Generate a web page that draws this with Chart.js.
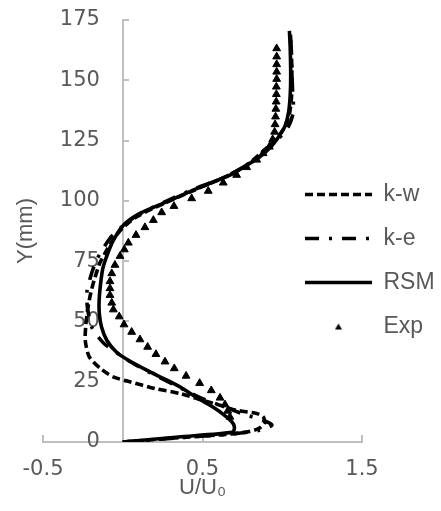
<!DOCTYPE html>
<html>
<head>
<meta charset="utf-8">
<script src="https://cdn.jsdelivr.net/npm/chart.js@4"></script>
<style>
html,body{margin:0;padding:0;background:#fff;}
#wrap{width:441px;height:511px;}
</style>
</head>
<body>
<div id="wrap"><canvas id="c" width="441" height="511"></canvas></div>
<script>
// ---- data ----
const xTicks = [-0.5, 0.5, 1.5];
const yTicks = [0, 25, 50, 75, 100, 125, 150, 175];
const seriesNames = ['k-w', 'k-e', 'RSM', 'Exp'];

const kwU = [0, 0.35, 0.62, 0.76, 0.85, 0.89, 0.88, 0.84, 0.71, 0.61, 0.5, 0.36, 0.2, 0.05, -0.06, -0.14, -0.21, -0.235, -0.232, -0.22, -0.2, -0.175, -0.145, -0.105, -0.06, -0.005, 0.09, 0.26, 0.45, 0.66, 0.77, 0.87, 0.95, 1.01, 1.045, 1.06, 1.06, 1.055, 1.05];
const kwY = [0, 1.8, 3.0, 4.0, 5.5, 8.0, 10.5, 11.8, 13.2, 15.2, 17.3, 20.1, 22.2, 24.9, 27.0, 30.5, 35.3, 42, 48, 55, 62, 68, 74, 79, 84, 88.5, 93.5, 99, 104.5, 110.5, 114.5, 120, 125, 130, 136, 145, 155, 165, 170];

const keU = [0, 0.4, 0.7, 0.85, 0.935, 0.88, 0.76, 0.62, 0.5, 0.36, 0.15, 0.03, -0.06, -0.12, -0.19, -0.22, -0.225, -0.195, -0.16, -0.08, -0.01, 0.09, 0.26, 0.45, 0.66, 0.85, 0.98, 1.04, 1.07, 1.065, 1.06, 1.055, 1.05];
const keY = [0, 2.0, 3.4, 4.8, 7.0, 9.0, 11.5, 15.0, 18, 22.5, 29.5, 34, 38, 41, 47, 55, 62, 70, 76, 84.5, 89, 94, 99.5, 105, 110.5, 118, 126, 131, 137, 145, 155, 165, 170];

const rsmU = [0, 0.35, 0.69, 0.70, 0.685, 0.62, 0.547, 0.45, 0.36, 0.26, 0.15, 0.035, -0.04, -0.1, -0.133, -0.147, -0.148, -0.14, -0.125, -0.095, -0.06, 0.004, 0.108, 0.275, 0.464, 0.672, 0.77, 0.86, 0.93, 0.985, 1.02, 1.04, 1.05, 1.053, 1.05, 1.045];
const rsmY = [0, 2.1, 4.1, 6.2, 8.3, 12, 15.2, 19, 22.8, 26.2, 29.8, 33.9, 37.3, 42.2, 47.7, 53.3, 58.8, 65, 72, 78, 83.5, 89.9, 94.8, 99.6, 105.1, 110.7, 114.5, 118.3, 122.5, 127.3, 131.4, 136.9, 143.9, 152.2, 163.2, 170.5];

const expU = [0.672, 0.658, 0.641, 0.61, 0.555, 0.482, 0.397, 0.323, 0.265, 0.208, 0.156, 0.108, 0.056, 0.008, -0.022, -0.059, -0.069, -0.08, -0.08, -0.08, -0.069, -0.049, -0.017, 0.01, 0.035, 0.083, 0.139, 0.192, 0.244, 0.321, 0.432, 0.536, 0.63, 0.714, 0.777, 0.84, 0.88, 0.919, 0.94, 0.952, 0.955, 0.958, 0.96, 0.962, 0.963, 0.963, 0.965, 0.965, 0.965, 0.965, 0.965];
const expY = [10.4, 12.9, 15.5, 18.3, 21.4, 24.4, 27.4, 30.5, 33.3, 36.4, 39.4, 42.5, 45.6, 48.7, 52.0, 54.9, 57.7, 60.9, 63.7, 66.6, 69.9, 73.4, 77.1, 79.8, 82.6, 85.8, 89.0, 92.0, 95.2, 97.8, 101.0, 104.1, 107.5, 110.7, 113.9, 117.0, 119.7, 122.4, 125.5, 128.6, 131.7, 134.9, 138.1, 141.1, 144.2, 147.3, 150.5, 153.5, 156.6, 159.8, 163.2];

// ---- styles ----
const FONT = "'Liberation Sans', Arial, sans-serif";
const TICKFONT = "'DejaVu Sans', 'Liberation Sans', sans-serif";
const TEXT = '#595959';
const AXIS = '#bfbfbf';
const LINE = '#000000';
const LEGEND_LEFT = 284;
const LEGEND_TOP = 162;

function pts(u, y) { return u.map((v, i) => ({ x: v, y: y[i] })); }

function lineSet(label, u, y, dash) {
  return {
    label: label, data: pts(u, y), showLine: true, fill: false,
    borderColor: LINE, backgroundColor: LINE, borderWidth: 3.6,
    borderDash: dash, borderCapStyle: 'butt', tension: 0.25,
    pointRadius: 0, pointHoverRadius: 0, pointStyle: 'line'
  };
}

// small legend glyph for the Exp series (triangle marker)
const legendTriangle = (function () {
  const c = document.createElement('canvas');
  c.width = 8; c.height = 7;
  const g = c.getContext('2d');
  g.fillStyle = LINE;
  g.beginPath();
  g.moveTo(4, 0.5); g.lineTo(7.5, 6.5); g.lineTo(0.5, 6.5);
  g.closePath(); g.fill();
  return c;
})();

const legendPlace = {
  id: 'legendPlace',
  afterLayout(chart) {
    const lg = chart.legend;
    if (!lg) return;
    lg.left = LEGEND_LEFT;
    lg.top = LEGEND_TOP;
    lg.right = chart.width;
    lg.width = chart.width - LEGEND_LEFT;
    lg.bottom = chart.height;
    lg.height = chart.height - LEGEND_TOP;
  }
};

new Chart(document.getElementById('c'), {
  type: 'scatter',
  data: {
    datasets: [
      lineSet(seriesNames[0], kwU, kwY, [8, 4]),
      lineSet(seriesNames[1], keU, keY, [14, 10, 3, 10]),
      lineSet(seriesNames[2], rsmU, rsmY, []),
      {
        label: seriesNames[3], data: pts(expU, expY), showLine: false,
        pointStyle: 'triangle', pointRadius: 4.5, pointHoverRadius: 4.5,
        backgroundColor: LINE, borderColor: LINE, borderWidth: 1
      }
    ]
  },
  options: {
    responsive: false, animation: false, devicePixelRatio: 1,
    layout: { padding: { left: 8.6, right: 79, top: 20, bottom: 0 } },
    plugins: {
      tooltip: { enabled: false },
      legend: {
        position: 'chartArea', align: 'start',
        labels: {
          usePointStyle: true, pointStyleWidth: 67, boxHeight: 5, padding: 21,
          textAlign: 'left', color: TEXT, font: { family: FONT, size: 23 },
          generateLabels(chart) {
            return chart.data.datasets.map((ds, i) => ({
              text: ds.label, datasetIndex: i, hidden: false,
              pointStyle: ds.showLine ? 'line' : legendTriangle,
              lineWidth: ds.showLine ? 3.6 : 1,
              lineDash: ds.showLine ? ds.borderDash : [],
              strokeStyle: LINE, fillStyle: LINE, fontColor: TEXT
            }));
          }
        }
      }
    },
    scales: {
      x: {
        type: 'linear', position: 'bottom', min: -0.5, max: 1.5,
        afterBuildTicks: s => { s.ticks = xTicks.map(v => ({ value: v })); },
        grid: { drawOnChartArea: false, color: AXIS, lineWidth: 2, tickLength: -7 },
        border: { color: AXIS, width: 2 },
        ticks: { color: TEXT, font: { family: TICKFONT, size: 21 }, padding: 21.5, maxRotation: 0, callback: v => String(v) },
        title: { display: true, text: 'U/U\u2080', color: TEXT, font: { family: FONT, size: 22 }, padding: { top: -28.6, bottom: 10 } }
      },
      y: {
        type: 'linear', axis: 'y', position: { x: -0.143 }, min: 0, max: 175,
        afterBuildTicks: s => { s.ticks = yTicks.map(v => ({ value: v })); },
        grid: { display: false },
        border: { display: false },
        ticks: { color: TEXT, font: { family: TICKFONT, size: 21 }, callback: v => String(v) }
      },
      y0: {
        type: 'linear', axis: 'y', position: { x: 0 }, min: 0, max: 175,
        afterBuildTicks: s => { s.ticks = yTicks.map(v => ({ value: v })); },
        grid: { drawOnChartArea: false, color: AXIS, lineWidth: 2, tickLength: -7 },
        border: { color: AXIS, width: 2 },
        ticks: { display: false }
      },
      yt: {
        type: 'linear', axis: 'y', position: 'left', min: 0, max: 175,
        grid: { display: false, drawTicks: false },
        border: { display: false },
        ticks: { display: false },
        title: { display: true, text: 'Y(mm)', color: TEXT, font: { family: FONT, size: 22 }, padding: { top: 4, bottom: 4 } }
      }
    }
  },
  plugins: [legendPlace]
});
</script>
</body>
</html>
